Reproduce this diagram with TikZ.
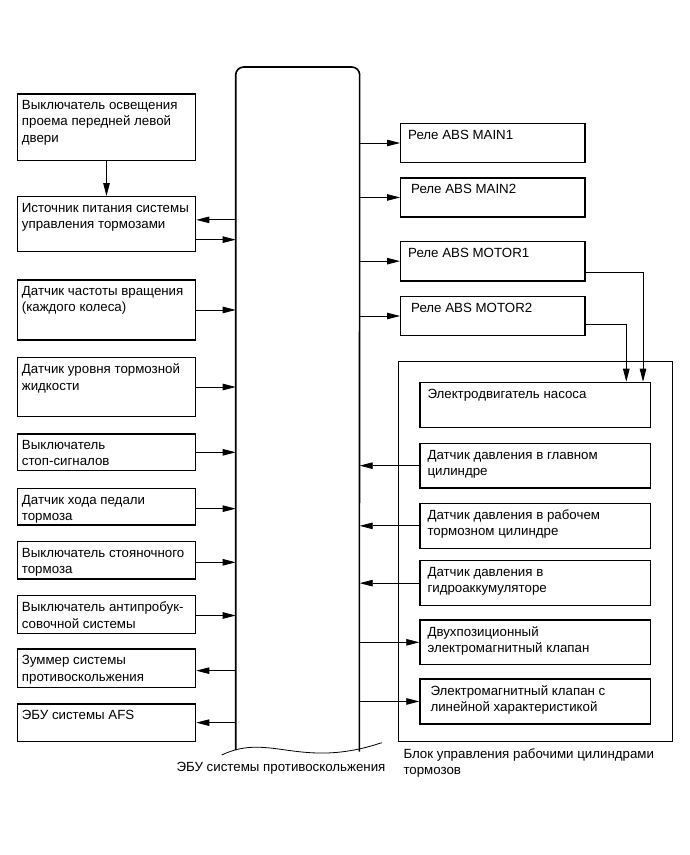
\documentclass[tikz,border=0pt]{standalone}
\usepackage{fontspec}
\setmainfont{Liberation Sans}
\usetikzlibrary{arrows.meta,calc}
\newcommand\bxx[7]{%
  \node[box,minimum width={#4bp-#2bp},minimum height={#5bp-#3bp}] (#1) at (#2,#3) {};
  \node[txt] (#1t) at ([xshift=#6bp,yshift=-7bp]#1.north west) {#7};}
\begin{document}
\begin{tikzpicture}[x=1bp,y=-1bp,
  box/.style={draw,line width=1.3bp,inner sep=0pt,anchor=north west},
  txt/.style={anchor=north west,inner sep=0pt,align=left,font=\fontsize{13.3bp}{16.3bp}\selectfont},
  con/.style={line width=0.8bp,-{Triangle[length=13bp,width=6.5bp]}},
  plain/.style={line width=0.8bp}]
\useasboundingbox (0,0) rectangle (690,855);
% ECU
\node[inner sep=0pt,minimum width=123.6bp,minimum height=683bp,anchor=north west] (ecu) at (235.7,67) {};
\coordinate (wl) at (221.7,755);
\coordinate (wr) at (381.7,742.7);
\draw[line width=1.6bp,rounded corners=8bp] (235.7,750) -- (ecu.north west) -- (ecu.north east) -- (359.3,751.5);
\draw[plain] (wl) .. controls (270,732) and (300,770) .. (wr);
% left boxes
\bxx{L1}{16.7}{93.3}{195}{160}{5}{Выключатель освещения\\проема передней левой\\двери}
\bxx{L2}{16.7}{196}{195}{251}{5}{Источник питания системы\\управления тормозами}
\bxx{L3}{16.7}{279.3}{195}{339.3}{5}{Датчик частоты вращения\\(каждого колеса)}
\bxx{L4}{16.7}{356.7}{195}{416}{5}{Датчик уровня тормозной\\жидкости}
\bxx{L5}{16.7}{433.3}{195}{470}{5}{Выключатель\\стоп-сигналов}
\bxx{L6}{16.7}{487.7}{195}{524.3}{5}{Датчик хода педали\\тормоза}
\bxx{L7}{16.7}{541}{195}{578.3}{5}{Выключатель стояночного\\тормоза}
\bxx{L8}{16.7}{595}{195}{632.7}{5}{Выключатель антипробук-\\совочной системы}
\bxx{L9}{16.7}{648.3}{195}{686.7}{5}{Зуммер системы\\противоскольжения}
\bxx{L10}{16.7}{703.3}{195}{740.7}{5}{ЭБУ системы AFS}
% right relays
\bxx{R1}{400}{122.7}{584.3}{162}{8}{Реле ABS MAIN1}
\bxx{R2}{400}{177.3}{584.3}{216.3}{11}{Реле ABS MAIN2}
\bxx{R3}{400}{240.7}{584.3}{280.3}{8}{Реле ABS MOTOR1}
\bxx{R4}{400}{295.7}{584.3}{335}{11}{Реле ABS MOTOR2}
% block
\node[box,minimum width=274bp,minimum height=380bp] (blk) at (397.7,360.7) {};
\bxx{I1}{419.3}{381.7}{650}{426.7}{8}{Электродвигатель насоса}
\bxx{I2}{419.3}{442.7}{650}{487.3}{8}{Датчик давления в главном\\цилиндре}
\bxx{I3}{419.3}{502.7}{650}{547.7}{8}{Датчик давления в рабочем\\тормозном цилиндре}
\bxx{I4}{419.3}{560}{650}{605}{8}{Датчик давления в\\гидроаккумуляторе}
\bxx{I5}{419.3}{619.3}{650}{664}{8}{Двухпозиционный\\электромагнитный клапан}
\bxx{I6}{419.3}{678.3}{650}{723.3}{11}{Электромагнитный клапан с\\линейной характеристикой}
% labels
\node[txt,anchor=base] (ecul) at (281,771) {ЭБУ системы противоскольжения};
\node[txt] (blkl) at (403.3,748.3) {Блок управления рабочими цилиндрами\\тормозов};
% connectors left
\draw[con] (L1.south) -- (L2.north);
\draw[con] ([yshift=4.3bp]L2.east -| ecu.west) -- ([yshift=4.3bp]L2.east);
\draw[con] ([yshift=-15.5bp]L2.east) -- ([yshift=-15.5bp]L2.east -| ecu.west);
\draw[con] (L3.east) -- (L3.east -| ecu.west);
\draw[con] (L4.east) -- (L4.east -| ecu.west);
\draw[con] (L5.east) -- (L5.east -| ecu.west);
\draw[con] ([yshift=-2bp]L6.east) -- ([yshift=-2bp]L6.east -| ecu.west);
\draw[con] ([yshift=-2bp]L7.east) -- ([yshift=-2bp]L7.east -| ecu.west);
\draw[con] ([yshift=-1bp]L8.east) -- ([yshift=-1bp]L8.east -| ecu.west);
\draw[con] ([yshift=-2.5bp]L9.east -| ecu.west) -- ([yshift=-2.5bp]L9.east);
\draw[con] (L10.east -| ecu.west) -- (L10.east);
% connectors right
\draw[con] (R1.west -| ecu.east) -- (R1.west);
\draw[con] (R2.west -| ecu.east) -- (R2.west);
\draw[con] (R3.west -| ecu.east) -- (R3.west);
\draw[con] (R4.west -| ecu.east) -- (R4.west);
\draw[con] ([yshift=-11.2bp]R3.east) -| ([xshift=-8.3bp]I1.north east);
\draw[con] ([yshift=-8bp]R4.east) -| ([xshift=-25bp]I1.north east);
\draw[con] (I2.west) -- (I2.west -| ecu.east);
\draw[con] (I3.west) -- (I3.west -| ecu.east);
\draw[con] (I4.west) -- (I4.west -| ecu.east);
\draw[con] (I5.west -| ecu.east) -- (I5.west);
\draw[con] (I6.west -| ecu.east) -- (I6.west);
\end{tikzpicture}
\end{document}
